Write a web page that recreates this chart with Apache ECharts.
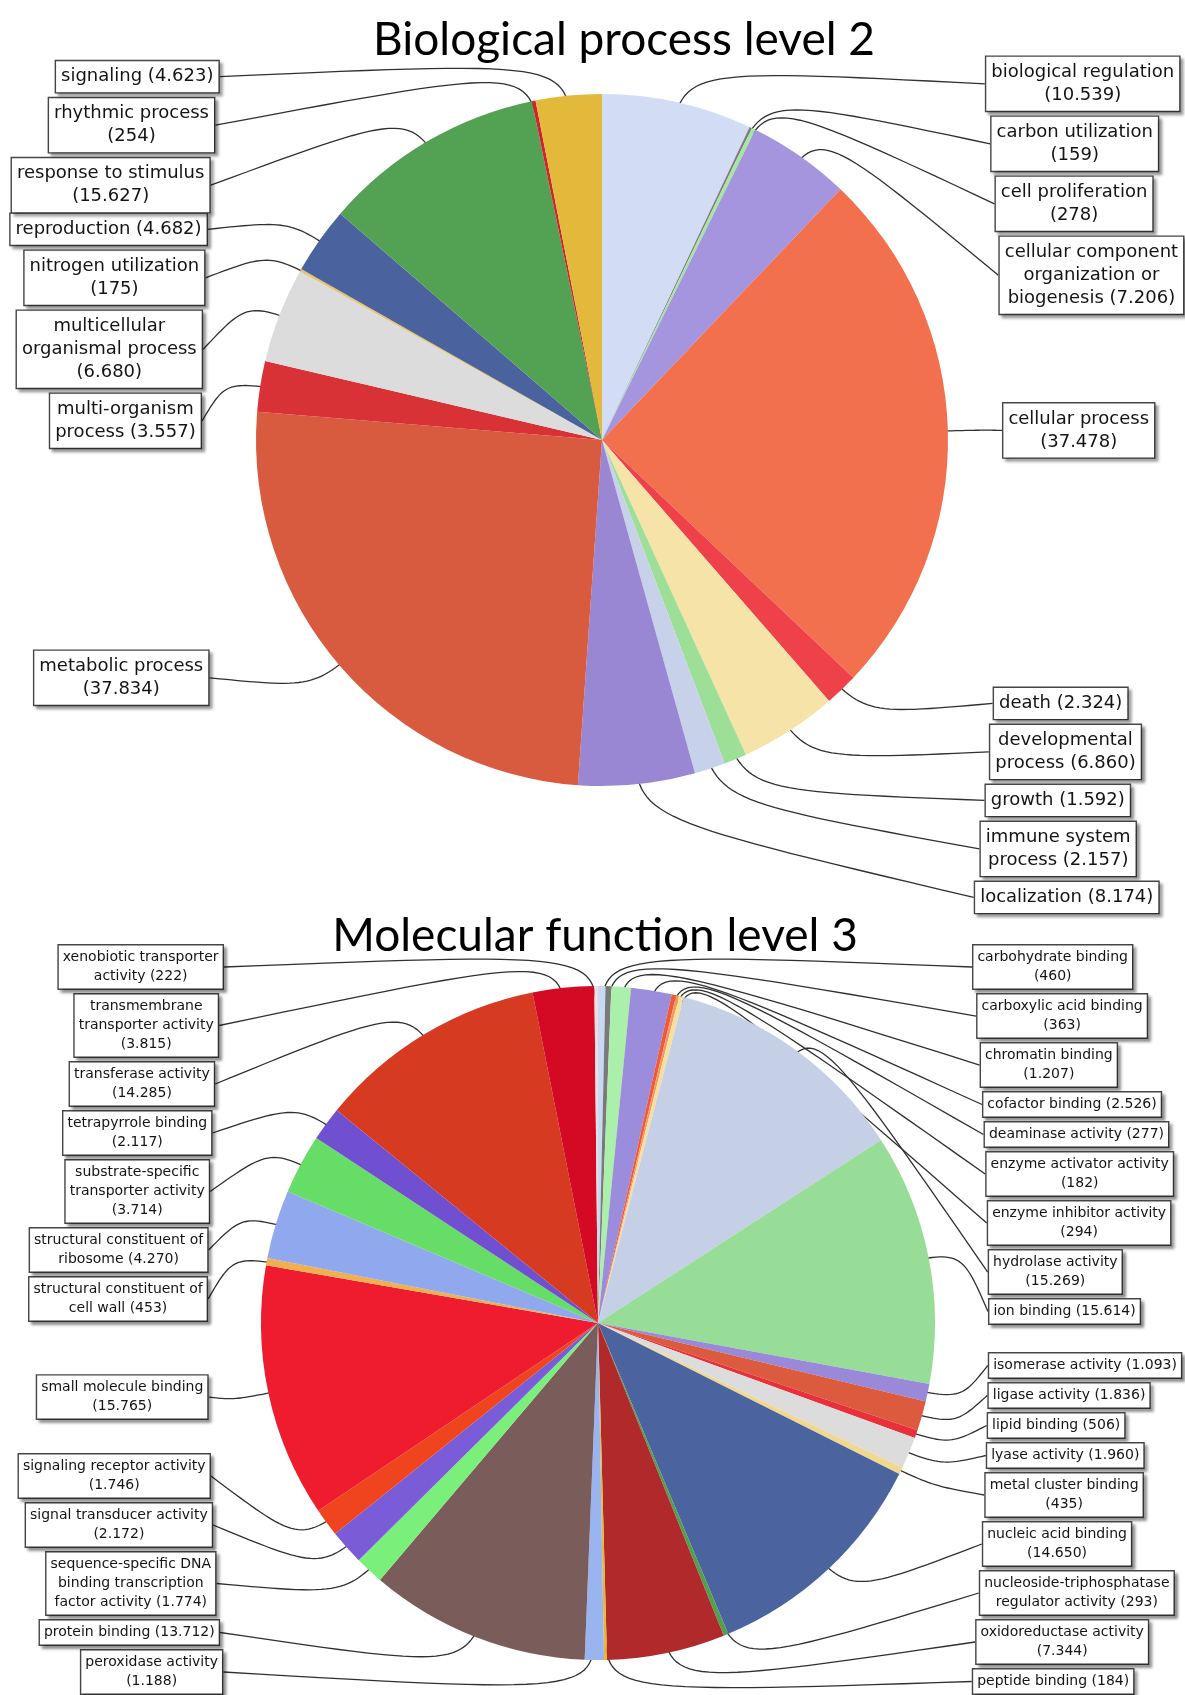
<!DOCTYPE html>
<html>
<head>
<meta charset="utf-8">
<script src="https://cdn.jsdelivr.net/npm/echarts@6/dist/echarts.min.js"></script>
<style>
  html, body { margin: 0; padding: 0; background: #ffffff; }
  #chart { width: 1185px; height: 1695px; }
</style>
</head>
<body>
<div id="chart"></div>
<script>
// ---- Biological process level 2 (sequence counts) ----
const bpNames = [
  'biological regulation', 'carbon utilization', 'cell proliferation',
  'cellular component\norganization or\nbiogenesis', 'cellular process', 'death',
  'developmental\nprocess', 'growth', 'immune system\nprocess', 'localization',
  'metabolic process', 'multi-organism\nprocess', 'multicellular\norganismal process',
  'nitrogen utilization', 'reproduction', 'response to stimulus', 'rhythmic process', 'signaling'
];
const bpValues = [10539, 159, 278, 7206, 37478, 2324, 6860, 1592, 2157, 8174,
                  37834, 3557, 6680, 175, 4682, 15627, 254, 4623];
// 1 = the count goes on its own line
const bpValueOnNewLine = [1, 1, 1, 0, 1, 0, 0, 0, 0, 0, 1, 0, 1, 1, 0, 1, 1, 0];
const bpColors = [
  '#d2ddf5', '#7d7d7d', '#a6e6a2', '#a594de', '#f2704d', '#ee414a',
  '#f5e3a8', '#9ddf96', '#c7d1ea', '#9a87d3', '#d85a3f', '#d93236',
  '#dcdcdc', '#e9c46a', '#4a629e', '#53a253', '#d2232a', '#e2b93a'
];

// ---- Molecular function level 3 (sequence counts) ----
const mfNames = [
  'carbohydrate binding', 'carboxylic acid binding', 'chromatin binding', 'cofactor binding',
  'deaminase activity', 'enzyme activator activity', 'enzyme inhibitor activity',
  'hydrolase activity', 'ion binding', 'isomerase activity', 'ligase activity',
  'lipid binding', 'lyase activity', 'metal cluster binding', 'nucleic acid binding',
  'nucleoside-triphosphatase\nregulator activity', 'oxidoreductase activity', 'peptide binding',
  'peroxidase activity', 'protein binding', 'sequence-specific DNA\nbinding transcription\nfactor activity',
  'signal transducer activity', 'signaling receptor activity', 'small molecule binding',
  'structural constituent of\ncell wall', 'structural constituent of\nribosome',
  'substrate-specific\ntransporter activity', 'tetrapyrrole binding', 'transferase activity',
  'transmembrane\ntransporter activity', 'xenobiotic transporter\nactivity'
];
const mfValues = [460, 363, 1207, 2526, 277, 182, 294, 15269, 15614, 1093, 1836, 506, 1960,
                  435, 14650, 293, 7344, 184, 1188, 13712, 1774, 2172, 1746, 15765, 453,
                  4270, 3714, 2117, 14285, 3815, 222];
const mfValueOnNewLine = [1, 1, 1, 0, 0, 1, 1, 1, 0, 0, 0, 0, 0, 1, 1, 0, 1, 0, 1, 0, 0,
                          1, 1, 1, 0, 0, 1, 1, 1, 1, 0];
const mfColors = [
  '#c9d8f3', '#7a7a7a', '#aaf0aa', '#9b8ddb', '#f05a3a', '#f39a62', '#f5e0a0',
  '#c5cfe6', '#97dc97', '#9a88d8', '#dc5a3e', '#e8303a', '#dcdcdc', '#f0d890',
  '#4b639f', '#50a050', '#b02a2c', '#e8b830', '#9ab4f0', '#7a5c5a', '#7af07a',
  '#7b5cd8', '#f0441e', '#ee1c2e', '#f0b050', '#8fa8ee', '#66dd66', '#7050d0',
  '#d63b22', '#d40a25', '#ebdfe6'
];

// Counts use a dot as thousands separator
function fmtCount(v) {
  return String(v).replace(/\B(?=(\d{3})+(?!\d))/g, '.');
}
function labelText(name, value, newLine) {
  return name + (newLine ? '\n' : ' ') + '(' + fmtCount(value) + ')';
}

// Pie geometry and label style for each panel
const panels = [
  {
    title: 'Biological process level 2', titleX: 619, titleTop: 7,
    names: bpNames, values: bpValues, breaks: bpValueOnNewLine, colors: bpColors,
    cx: 602, cy: 440, r: 346,
    fontSize: 18, lineHeight: 23, pad: [4, 5],
    labelTop: 40, labelBottom: 925, edgeBase: 400, edgeBulge: 18
  },
  {
    title: 'Molecular function level 3', titleX: 590, titleTop: 903,
    names: mfNames, values: mfValues, breaks: mfValueOnNewLine, colors: mfColors,
    cx: 598, cy: 1323, r: 337,
    fontSize: 14, lineHeight: 19, pad: [2.5, 4],
    labelTop: 940, labelBottom: 1694, edgeBase: 390, edgeBulge: 16
  }
];

const LABEL_GAP = 5;

// Label slots: start next to each slice's mid-angle, then spread apart
// on each side so boxes do not overlap (down pass, then up pass).
function layoutLabels(p) {
  const total = p.values.reduce((a, b) => a + b, 0);
  const L = p.r + 19;
  let acc = 0;
  const recs = p.values.map((v, i) => {
    const mid = (acc + v / 2) / total * Math.PI * 2;
    acc += v;
    const sx = Math.sin(mid), sy = -Math.cos(mid);
    const lines = labelText(p.names[i], v, p.breaks[i]).split('\n').length;
    const h = lines * p.lineHeight + 2 * p.pad[0] + 1;
    return { i, sx, sy, left: sx < 0, y: p.cy + L * sy, h };
  });
  [true, false].forEach(side => {
    const g = recs.filter(d => d.left === side).sort((a, b) => a.y - b.y);
    for (let k = 1; k < g.length; k++) {
      const a = g[k - 1], b = g[k];
      if (b.y - b.h / 2 < a.y + a.h / 2) {
        b.y = Math.min(p.labelBottom - b.h / 2, a.y + a.h / 2 + LABEL_GAP + b.h / 2);
      }
    }
    for (let k = g.length - 1; k > 0; k--) {
      const b = g[k], a = g[k - 1];
      if (a.y + a.h / 2 > b.y - b.h / 2) {
        a.y = Math.max(p.labelTop + a.h / 2, b.y - b.h / 2 - LABEL_GAP - a.h / 2);
      }
    }
  });
  recs.forEach(d => {
    const t = (d.y - p.cy) / L;
    const dist = p.edgeBase - p.edgeBulge * t * t;
    d.edgeX = d.left ? p.cx - dist : p.cx + dist;
  });
  return recs;
}

const layouts = panels.map(layoutLabels);

// Link: cubic curve from inside the slice, pulled toward an elbow just
// outside the rim, ending at the label box.
function linkPoints(p, d) {
  const p0 = [p.cx + d.sx * p.r * 0.9, p.cy + d.sy * p.r * 0.9];
  const c = [p.cx + d.sx * p.r * 1.1, p.cy + d.sy * p.r * 1.1];
  const p3 = [d.edgeX, d.y];
  const pts = [];
  const N = 30;
  for (let k = 0; k <= N; k++) {
    const t = k / N, u = 1 - t;
    const a = u * u * u, b = 3 * u * u * t + 3 * u * t * t, e = t * t * t;
    pts.push([a * p0[0] + b * c[0] + e * p3[0], a * p0[1] + b * c[1] + e * p3[1]]);
  }
  return pts;
}

const series = panels.map((p, si) => ({
  type: 'pie',
  center: [p.cx, p.cy],
  radius: [0, p.r],
  startAngle: 90,
  clockwise: true,
  avoidLabelOverlap: false,
  silent: true,
  emphasis: { disabled: true },
  itemStyle: { borderWidth: 0 },
  data: p.values.map((v, i) => ({
    name: p.names[i].replace(/\n/g, ' '),
    value: v,
    itemStyle: { color: p.colors[i] }
  })),
  label: {
    show: true,
    position: 'outside',
    formatter: prm => labelText(p.names[prm.dataIndex], p.values[prm.dataIndex], p.breaks[prm.dataIndex]),
    fontFamily: 'DejaVu Sans',
    fontSize: p.fontSize,
    lineHeight: p.lineHeight,
    color: '#141414',
    align: 'center',
    backgroundColor: '#ffffff',
    borderColor: '#454545',
    borderWidth: 1.4,
    padding: p.pad,
    shadowColor: 'rgba(0,0,0,0.35)',
    shadowBlur: 3,
    shadowOffsetX: 3,
    shadowOffsetY: 3
  },
  labelLine: {
    show: true,
    smooth: false,
    length: 10,
    length2: 10,
    lineStyle: { color: '#303030', width: 1.3 }
  },
  labelLayout: prm => {
    const d = layouts[si][prm.dataIndex];
    const w = prm.labelRect.width;
    return {
      x: d.left ? d.edgeX - w / 2 : d.edgeX + w / 2,
      y: d.y,
      align: 'center',
      verticalAlign: 'middle',
      labelLinePoints: linkPoints(p, d)
    };
  }
}));

const chart = echarts.init(document.getElementById('chart'), null, { renderer: 'canvas' });
chart.setOption({
  animation: false,
  backgroundColor: '#ffffff',
  title: panels.map(p => ({
    text: p.title,
    left: p.titleX,
    top: p.titleTop,
    textAlign: 'center',
    textStyle: {
      fontFamily: 'Lato',
      fontWeight: 'normal',
      fontSize: 46,
      lineHeight: 56,
      color: '#000000'
    }
  })),
  series: series
});
</script>
</body>
</html>
